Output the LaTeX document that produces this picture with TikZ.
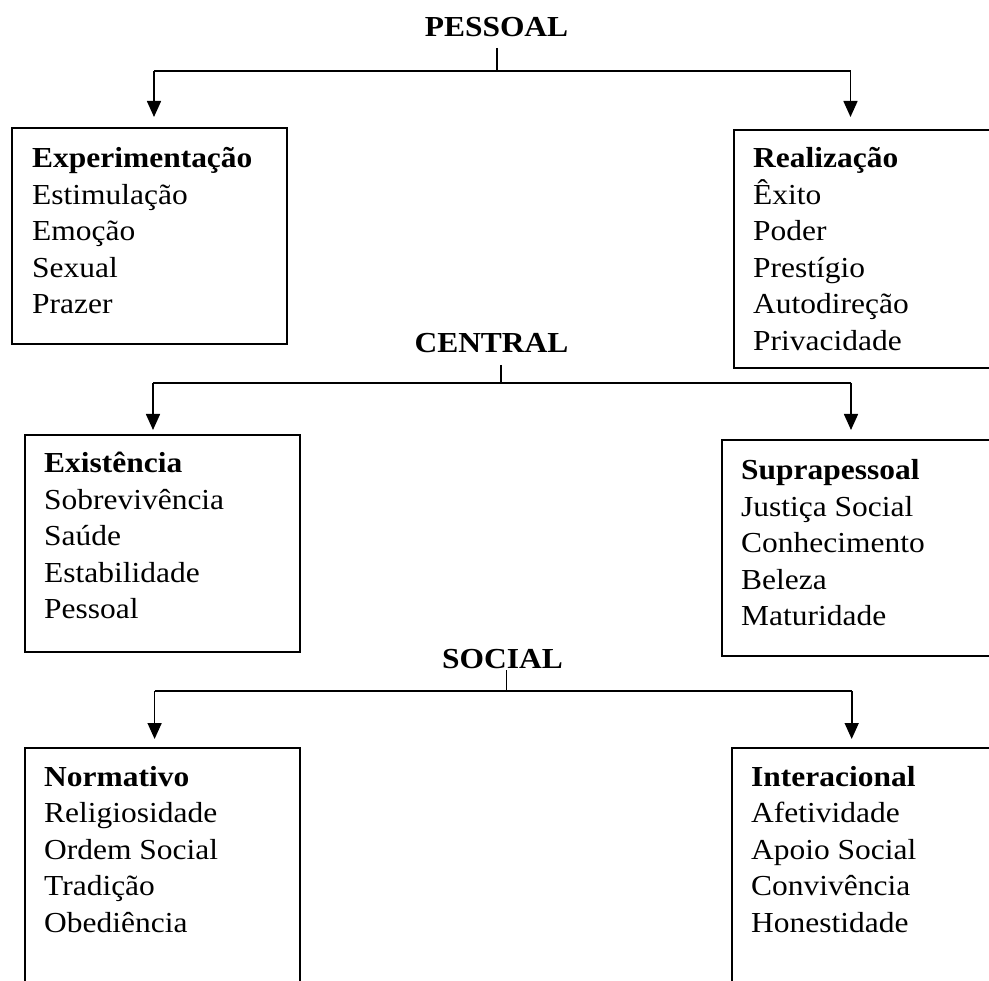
\documentclass[tikz,border=0pt]{standalone}
\usepackage{fontspec}
\setmainfont{Liberation Serif}[FakeStretch=1.085]
\usetikzlibrary{arrows.meta}

\tikzset{
  heading/.style={font=\fontsize{29}{36.5}\selectfont\bfseries, inner sep=0pt, anchor=base},
  valbox/.style={draw, line width=1.8pt, anchor=north west, inner sep=0pt},
  vallist/.style={font=\fontsize{29}{36.5}\selectfont, align=left, inner sep=0pt, anchor=base west},
  link/.style={line width=1.6pt},
  arrow/.style={link, -{Triangle[length=16pt,width=14pt]}, shorten >=#1},
  arrow/.default=8pt
}

\begin{document}
\begin{tikzpicture}[x=1pt, y=-1pt]
  \useasboundingbox (0,0) rectangle (989,981);
  \clip (0,0) rectangle (989,981);

  % headings
  \node[heading] (pessoal) at (496.5,37) {PESSOAL};
  \node[heading] (central) at (491.5,353) {CENTRAL};
  \node[heading] (social) at (502.5,668) {SOCIAL};

  % boxes
  \node[valbox, minimum width=275pt, minimum height=216pt] (expbox) at (11,127) {};
  \node[valbox, minimum width=300pt, minimum height=238pt] (reabox) at (733,129) {};
  \node[valbox, minimum width=275pt, minimum height=217pt] (exibox) at (24,434) {};
  \node[valbox, minimum width=300pt, minimum height=216pt] (supbox) at (721,439) {};
  \node[valbox, minimum width=275pt, minimum height=300pt] (norbox) at (24,747) {};
  \node[valbox, minimum width=300pt, minimum height=300pt] (intbox) at (731,747) {};

  % values (placed at the baseline of the last line)
  \node[vallist] (exptext) at (32,314) {\textbf{Experimentação}\\Estimulação\\Emoção\\Sexual\\Prazer};
  \node[vallist] (reatext) at (753,350.5) {\textbf{Realização}\\Êxito\\Poder\\Prestígio\\Autodireção\\Privacidade};
  \node[vallist] (exitext) at (44,619) {\textbf{Existência}\\Sobrevivência\\Saúde\\Estabilidade\\Pessoal};
  \node[vallist] (suptext) at (741,626) {\textbf{Suprapessoal}\\Justiça Social\\Conhecimento\\Beleza\\Maturidade};
  \node[vallist] (nortext) at (44,932) {\textbf{Normativo}\\Religiosidade\\Ordem Social\\Tradição\\Obediência};
  \node[vallist] (inttext) at (751,932) {\textbf{Interacional}\\Afetividade\\Apoio Social\\Convivência\\Honestidade};

  % junctions
  \coordinate (ptop) at (497,48);
  \coordinate (pmid) at (497,71);
  \coordinate (pl) at (154,71);
  \coordinate (pr) at (850.5,71);
  \coordinate (ctop) at (501,365);
  \coordinate (cmid) at (501,383);
  \coordinate (cl) at (153,383);
  \coordinate (cr) at (851,383);
  \coordinate (stop) at (506.6,670);
  \coordinate (smid) at (506.6,691);
  \coordinate (sl) at (154.6,691);
  \coordinate (sr) at (851.7,691);

  % connectors
  \draw[link] (ptop) -- (pmid);
  \draw[link] (pl) -- (pr);
  \draw[arrow=10pt] (pl) -- (pl |- expbox.north);
  \draw[arrow=12pt] (pr) -- (pr |- reabox.north);

  \draw[link] (ctop) -- (cmid);
  \draw[link] (cl) -- (cr);
  \draw[arrow=4pt] (cl) -- (cl |- exibox.north);
  \draw[arrow=9pt] (cr) -- (cr |- supbox.north);

  \draw[link] (stop) -- (smid);
  \draw[link] (sl) -- (sr);
  \draw[arrow] (sl) -- (sl |- norbox.north);
  \draw[arrow] (sr) -- (sr |- intbox.north);
\end{tikzpicture}
\end{document}
